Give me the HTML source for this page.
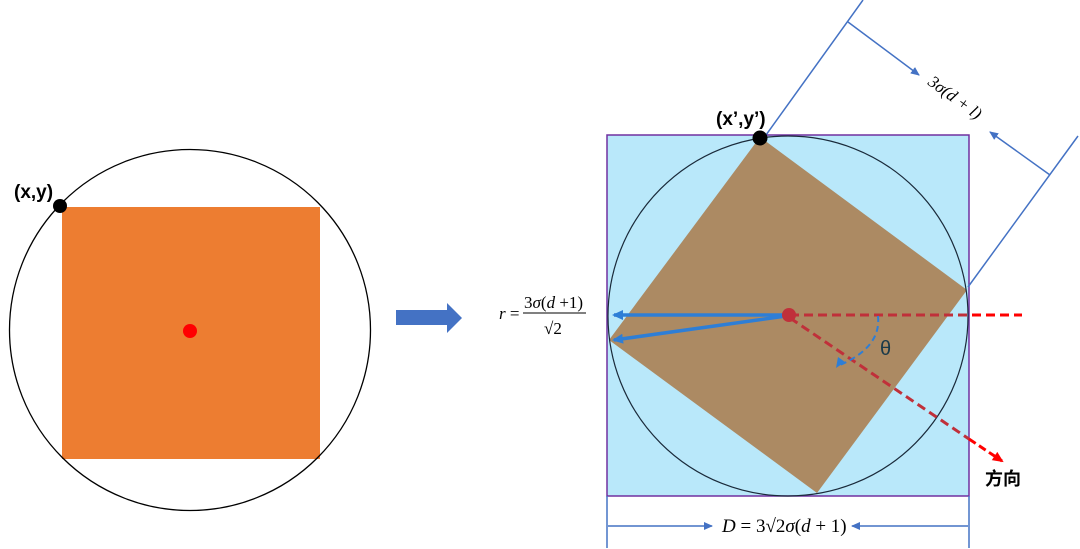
<!DOCTYPE html>
<html><head><meta charset="utf-8"><style>body{margin:0;background:#fff}svg{display:block}</style></head>
<body>
<svg width="1080" height="549" viewBox="0 0 1080 549" xmlns="http://www.w3.org/2000/svg" font-family="Liberation Serif, serif">
<defs>
<marker id="ab" markerWidth="10" markerHeight="10" refX="8" refY="5" orient="auto" markerUnits="userSpaceOnUse"><path d="M0,1 L9,5 L0,9 Z" fill="#4472c4"/></marker>
<marker id="ab2" markerWidth="12" markerHeight="12" refX="9" refY="6" orient="auto" markerUnits="userSpaceOnUse"><path d="M0,1 L11,6 L0,11 Z" fill="#2e7ed6"/></marker>
<marker id="ar" markerWidth="12" markerHeight="12" refX="9" refY="6" orient="auto" markerUnits="userSpaceOnUse"><path d="M0,1 L11,6 L0,11 Z" fill="#ff0000"/></marker>
</defs>
<rect x="62" y="207" width="258" height="252" fill="#ed7d31"/>
<circle cx="190" cy="330" r="180.5" fill="none" stroke="#000" stroke-width="1.3"/>
<circle cx="60" cy="206" r="7" fill="#000"/>
<circle cx="190" cy="331" r="7" fill="#ff0000"/>
<text x="14" y="198" font-family="Liberation Sans, sans-serif" font-size="19" font-weight="bold">(x,y)</text>
<path d="M396,310 H447 V303 L462,318 L447,333 V325 H396 Z" fill="#4472c4"/>
<rect x="607" y="135" width="362" height="361" fill="#b9e8fa" stroke="#7030a0" stroke-width="1.5"/>
<polygon points="760,137 967,290 817,493 609,340" fill="#ac8a63"/>
<circle cx="788" cy="316" r="180" fill="none" stroke="#1a2a3a" stroke-width="1.2"/>
<g stroke="#4472c4" stroke-width="1.5" fill="none">
<line x1="766" y1="135" x2="863" y2="0"/>
<line x1="968" y1="287" x2="1078" y2="136"/>
<line x1="848" y1="22" x2="919" y2="75" marker-end="url(#ab)"/>
<line x1="1050" y1="175" x2="990" y2="132" marker-end="url(#ab)"/>
<line x1="607" y1="496" x2="607" y2="548"/>
<line x1="969" y1="496" x2="969" y2="548"/>
<line x1="608" y1="526" x2="712" y2="526" marker-end="url(#ab)"/>
<line x1="968" y1="526" x2="852" y2="526" marker-end="url(#ab)"/>
</g>
<text transform="translate(927,84) rotate(36)" font-size="17" font-style="italic">3σ(d + l)</text>
<text x="722" y="532" font-size="19"><tspan font-style="italic">D</tspan> = 3√2<tspan font-style="italic">σ</tspan>(<tspan font-style="italic">d</tspan> + 1)</text>
<g stroke="#c0303a" stroke-width="3" fill="none" stroke-dasharray="9,5">
<line x1="790" y1="315" x2="970" y2="315"/>
<line x1="790" y1="318" x2="969" y2="439"/>
</g>
<line x1="972" y1="315" x2="1022" y2="315" stroke="#ff0000" stroke-width="3" stroke-dasharray="9,5"/>
<line x1="969" y1="439" x2="1002" y2="461" stroke="#ff0000" stroke-width="3" stroke-dasharray="8,4" marker-end="url(#ar)"/>
<g stroke="#2e7ed6" stroke-width="3.5" fill="none">
<line x1="786" y1="315" x2="614" y2="315" marker-end="url(#ab2)"/>
<line x1="786" y1="316" x2="614" y2="340" marker-end="url(#ab2)"/>
</g>
<path d="M878,316 C880,335 870,352 840,365" stroke="#2e7ed6" stroke-width="2" stroke-dasharray="6,4" fill="none"/>
<path d="M836,368 L838,357 L845,362 Z" fill="#2e7ed6"/>
<circle cx="789" cy="315" r="7" fill="#c0303a"/>
<circle cx="760" cy="138" r="7.5" fill="#000"/>
<text x="716" y="125" font-family="Liberation Sans, sans-serif" font-size="19" font-weight="bold">(x’,y’)</text>
<text x="880" y="355" font-family="Liberation Sans, sans-serif" font-size="20" fill="#1a3a4a">θ</text>
<text x="985" y="485" font-family="Liberation Sans, Noto Sans CJK SC, sans-serif" font-size="18" font-weight="bold">方向</text>
<text x="499" y="319" font-size="17"><tspan font-style="italic">r</tspan> =</text>
<text x="524" y="308" font-size="17">3<tspan font-style="italic">σ</tspan>(<tspan font-style="italic">d</tspan> +1)</text>
<line x1="523" y1="313" x2="586" y2="313" stroke="#000" stroke-width="1"/>
<text x="544" y="334" font-size="17">√2</text>
</svg>
</body></html>
